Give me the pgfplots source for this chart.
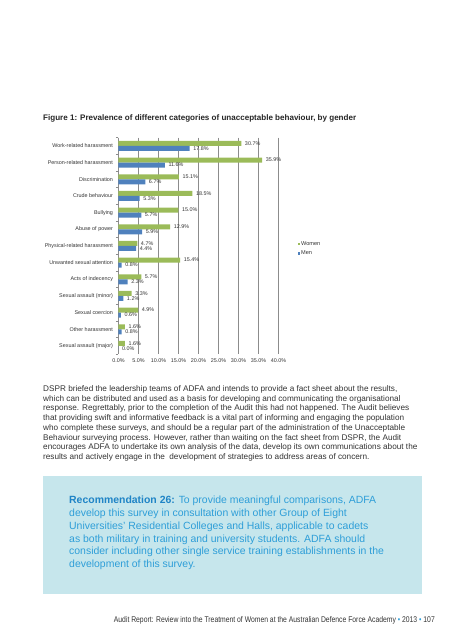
\documentclass[border=0pt]{standalone}
\usepackage{fontspec}
\setmainfont{Liberation Sans}
\newfontfamily\condfont[FakeStretch=0.82]{Liberation Sans}
\usepackage{pgfplots}
\pgfplotsset{compat=1.18}
\definecolor{women}{HTML}{9BBB59}
\definecolor{men}{HTML}{4F81BD}
\definecolor{boxblue}{HTML}{C6E6EC}
\definecolor{recblue}{HTML}{2E9ED8}
\definecolor{recdark}{HTML}{1F84C6}
\definecolor{txt}{HTML}{333333}
\definecolor{gridgray}{HTML}{8C8C8C}
\newcommand\pline[2]{\node[anchor=base west,inner sep=0,font=\fontsize{8.2}{9}\selectfont,text=txt] at (43pt,-#1pt) {#2};}
\newcommand\rline[2]{\node[anchor=base west,inner sep=0,font=\fontsize{10.45}{12}\selectfont,text=recblue] at (69pt,-#1pt) {#2};}
\begin{document}
\begin{tikzpicture}
\path[use as bounding box] (0pt,0pt) rectangle (450pt,-640pt);
\node[anchor=base west,inner sep=0,font=\bfseries\fontsize{8.05}{9}\selectfont,text=black!85] at (43pt,-120.5pt) {Figure 1: Prevalence of different categories of unacceptable behaviour, by gender};
\begin{axis}[
  at={(118.5pt,-354.3pt)}, anchor=south west,
  scale only axis, width=160pt, height=216.7pt,
  xbar, bar width=5pt,
  xmin=0, xmax=40, ymin=-0.5, ymax=12.5, y dir=reverse,
  axis x line*=bottom, x axis line style={draw=none},
  axis y line*=left, y axis line style={draw=gridgray, line width=0.6pt},
  xmajorgrids, grid style={draw=gridgray, line width=0.6pt},
  xtick={0,5,...,40},
  xticklabel={\pgfmathprintnumber[fixed,precision=1,fixed zerofill]{\tick}\%},
  /pgf/number format/assume math mode=true,
  ytick={0,...,12},
  yticklabels={Work-related harassment,Person-related harassment,Discrimination,Crude behaviour,Bullying,Abuse of power,Physical-related harassment,Unwanted sexual attention,Acts of indecency,Sexual assault (minor),Sexual coercion,Other harassment,Sexual assault (major)},
  minor ytick={-0.5,0.5,...,12.5},
  major tick length=0pt, minor tick length=2.5pt, tick align=outside,
  minor tick style={draw=gridgray, line width=0.6pt},
  tick label style={font=\fontsize{5.4}{6}\selectfont, text=txt},
  yticklabel style={xshift=-2pt},
  xticklabel style={yshift=-1pt},
  nodes near coords={\pgfmathprintnumber[fixed,precision=1,fixed zerofill]{\pgfplotspointmeta}\%},
  nodes near coords style={font=\fontsize{5.4}{6}\selectfont, text=txt, anchor=west, inner sep=0pt, xshift=3.5pt},
  legend style={at={(1.12,0.487)}, anchor=west, draw=none, fill=none, font=\fontsize{5.6}{6}\selectfont, text=txt, row sep=3pt, inner sep=0pt, nodes={inner sep=0.6pt}},
  legend cell align=left,
  clip=false,
]
\addplot[fill=women, draw=none, bar shift=2.5pt,
  legend image code/.code={\fill[women] (0pt,-1.3pt) rectangle (2.6pt,1.3pt);}]
  coordinates {(30.7,0) (35.9,1) (15.1,2) (18.5,3) (15.0,4) (12.9,5) (4.7,6) (15.4,7) (5.7,8) (3.3,9) (4.9,10) (1.6,11) (1.6,12)};
\addplot[fill=men, draw=none, bar shift=-2.5pt,
  legend image code/.code={\fill[men] (0pt,-1.3pt) rectangle (2.6pt,1.3pt);}]
  coordinates {(17.8,0) (11.6,1) (6.7,2) (5.3,3) (5.7,4) (5.9,5) (4.4,6) (0.8,7) (2.3,8) (1.2,9) (0.6,10) (0.8,11) (0.0,12)};
\legend{Women,Men}
\end{axis}
\pline{391.3}{DSPR briefed the leadership teams of ADFA and intends to provide a fact sheet about the results,}
\pline{401.1}{which can be distributed and used as a basis for developing and communicating the organisational}
\pline{410.8}{response. Regrettably, prior to the completion of the Audit this had not happened. The Audit believes}
\pline{420.6}{that providing swift and informative feedback is a vital part of informing and engaging the population}
\pline{430.4}{who complete these surveys, and should be a regular part of the administration of the Unacceptable}
\pline{440.2}{Behaviour surveying process. However, rather than waiting on the fact sheet from DSPR, the Audit}
\pline{449.9}{encourages ADFA to undertake its own analysis of the data, develop its own communications about the}
\pline{459.7}{results and actively engage in the\ \ development of strategies to address areas of concern.}
\fill[boxblue] (43pt,-476pt) rectangle (422pt,-594pt);
\rline{503.5}{{\bfseries\color{recdark}Recommendation 26:} To provide meaningful comparisons, ADFA}
\rline{516.4}{develop this survey in consultation with other Group of Eight}
\rline{529.2}{Universities' Residential Colleges and Halls, applicable to cadets}
\rline{542.1}{as both military in training and university students. ADFA should}
\rline{554.9}{consider including other single service training establishments in the}
\rline{567.8}{development of this survey.}
\node[anchor=base east,inner sep=0,font=\condfont\fontsize{8.3}{9}\selectfont,text=txt] at (435pt,-622pt) {Audit Report: Review into the Treatment of Women at the Australian Defence Force Academy {\color{recblue}\textbullet} 2013 {\color{recblue}\textbullet} 107};
\end{tikzpicture}
\end{document}
